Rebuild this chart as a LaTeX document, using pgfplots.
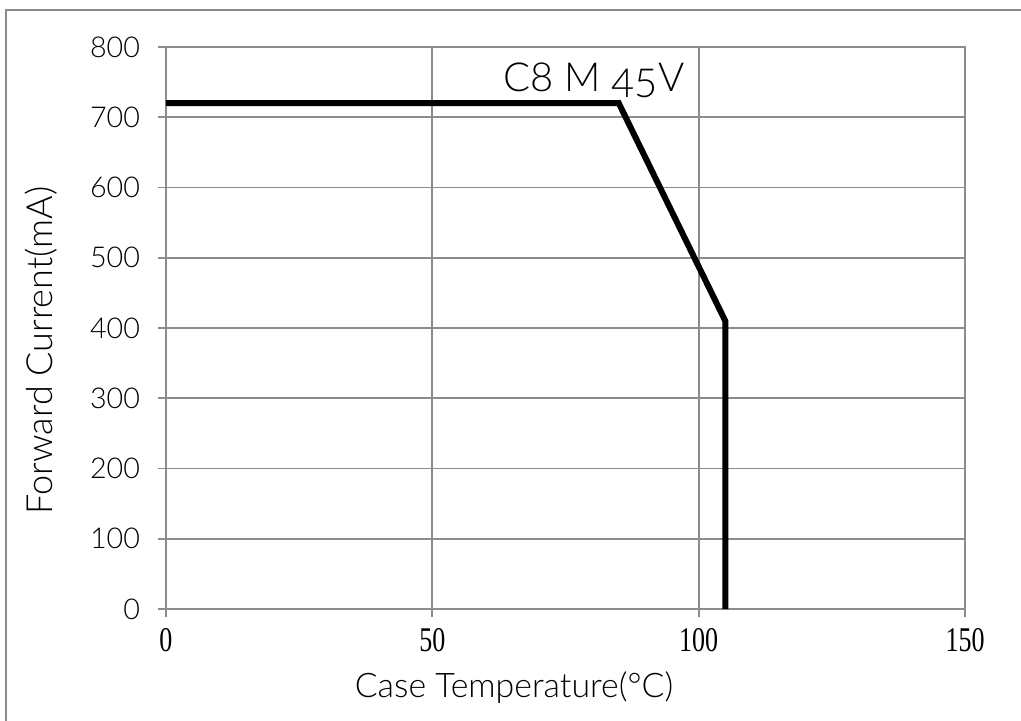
\documentclass[border=0pt]{standalone}
\usepackage{pgfplots}
\pgfplotsset{compat=1.18}
\usepackage{fontspec}
\IfFontExistsTF{Lato Light}{\setmainfont{Lato Light}}{\setmainfont{Lato}}
\newfontfamily\serifx{Liberation Serif}
\definecolor{gridgray}{HTML}{8C8C8C}
\begin{document}
\begin{tikzpicture}
\begin{axis}[
  at={(0pt,0pt)}, anchor=south west,
  scale only axis, width=599.25pt, height=421.5pt,
  xmin=0, xmax=150, ymin=0, ymax=800,
  xtick={0,50,100,150}, ytick={0,100,...,800},
  tick pos=left,
  grid=major,
  major grid style={draw=gridgray, line width=1.3pt},
  axis line style={draw=gridgray, line width=1.3pt},
  tick style={draw=gridgray, line width=1.3pt},
  tick align=outside,
  major tick length=6pt,
  clip=false,
  /pgf/number format/assume math mode=true,
  yticklabel style={font=\fontsize{21.5}{24}\selectfont, xshift=-10pt},
  xticklabel style={font=\serifx\fontsize{26}{30}\selectfont, xscale=0.75, yshift=-5pt},
  xlabel={Case Temperature(°C)},
  ylabel={Forward Current(mA)},
  xlabel style={font=\fontsize{25.4}{28}\selectfont, at={(axis description cs:0.4355,-0.158)}, anchor=base},
  ylabel style={font=\fontsize{27}{30}\selectfont, at={(axis description cs:-0.156,0.46)}, anchor=center, rotate=0},
]
\addplot[black, line width=4.5pt, line join=miter] coordinates {(0,720) (85,720) (105,410) (105,0)};
\node[anchor=base west, inner sep=0pt, font=\fontsize{30}{34}\selectfont] at (axis cs:63.3,736) {C8 M \raisebox{-0.15em}{45}V};
\end{axis}
\draw[gridgray, line width=1.5pt] (-120pt,-90pt) -- (-120pt,449.25pt) -- (650pt,449.25pt);
\pgfresetboundingbox
\useasboundingbox (-124.5pt,-84pt) rectangle (641.25pt,456.75pt);
\end{tikzpicture}
\end{document}
